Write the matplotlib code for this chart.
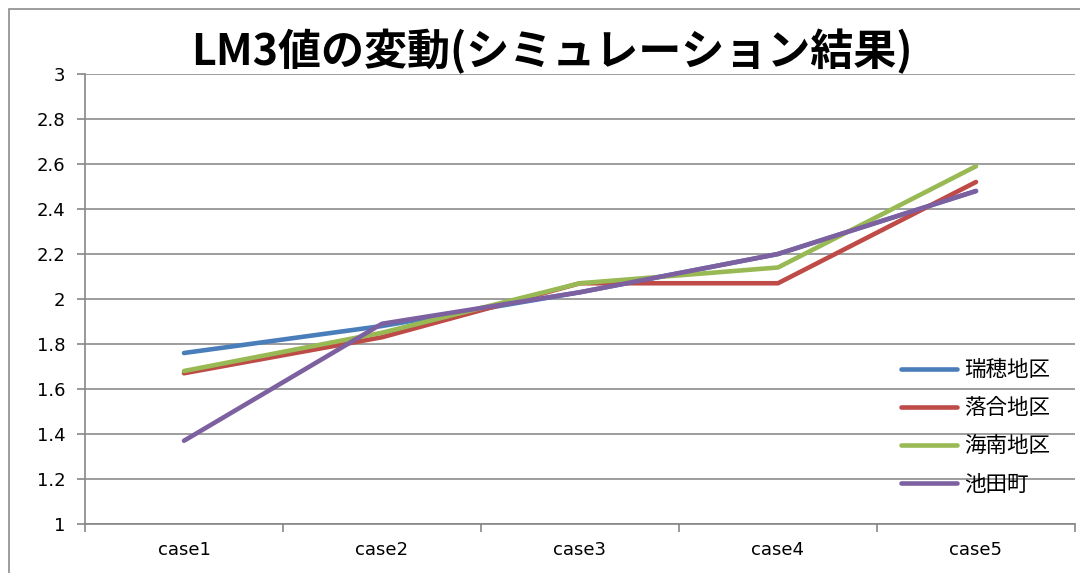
import matplotlib.pyplot as plt
from matplotlib.patches import Rectangle

plt.rcParams['font.family'] = ['Noto Sans CJK JP', 'DejaVu Sans']

# data
cases = ["case1", "case2", "case3", "case4", "case5"]
mizuho = [1.76, 1.88, 2.03, 2.20, 2.48]
ochiai = [1.67, 1.83, 2.07, 2.07, 2.52]
kainan = [1.68, 1.85, 2.07, 2.14, 2.59]
ikedacho = [1.37, 1.89, 2.03, 2.20, 2.48]

series = [
    ("瑞穂地区", mizuho, "#4A7EBB"),
    ("落合地区", ochiai, "#BE4B48"),
    ("海南地区", kainan, "#98B954"),
    ("池田町", ikedacho, "#7D60A0"),
]

fig = plt.figure(figsize=(10.8, 5.73), dpi=100)
ax = fig.add_axes([85 / 1080, 1 - 524 / 573, 990 / 1080, 450 / 573])

# outer chart border
fig.patches.append(Rectangle((9 / 1080, -0.1), 1.2, 1 - 9 / 573 + 0.1,
                             transform=fig.transFigure, fill=False,
                             edgecolor="#8c8c8c", linewidth=1.2))

x = [i + 0.5 for i in range(len(cases))]
for name, vals, col in series:
    ax.plot(x, vals, color=col, linewidth=3.3, label=name, solid_capstyle="round")

ax.set_xlim(0, len(cases))
ax.set_ylim(1, 3)
ax.set_yticks([1 + 0.2 * i for i in range(11)])
ax.set_yticklabels(["1", "1.2", "1.4", "1.6", "1.8", "2", "2.2", "2.4", "2.6", "2.8", "3"])
ax.set_xticks(x)
ax.set_xticklabels(cases)
ax.set_xticks(range(len(cases) + 1), minor=True)
ax.tick_params(axis="x", which="major", length=0, pad=12, labelsize=13)
ax.tick_params(axis="x", which="minor", length=6, color="#868686", width=1.2)
ax.tick_params(axis="y", length=6, color="#868686", width=1.2, labelsize=13, pad=8)
for lab in ax.get_xticklabels() + ax.get_yticklabels():
    lab.set_family("DejaVu Sans")

ax.grid(axis="y", color="#8c8c8c", linewidth=1.2)
ax.set_axisbelow(True)
for s in ["top", "right"]:
    ax.spines[s].set_visible(False)
for s in ["left", "bottom"]:
    ax.spines[s].set_color("#868686")
    ax.spines[s].set_linewidth(1.2)

fig.text(0.511, 1 - 52 / 573, "LM3値の変動(シミュレーション結果)", ha="center", va="center",
         fontsize=31, fontweight="bold")

ax.legend(loc="upper left", bbox_to_anchor=(801 / 990, 180 / 450), frameon=False,
          fontsize=15.5, handlelength=2.6, labelspacing=0.75, handletextpad=0.35,
          borderpad=0.2)

plt.savefig("out.png")
